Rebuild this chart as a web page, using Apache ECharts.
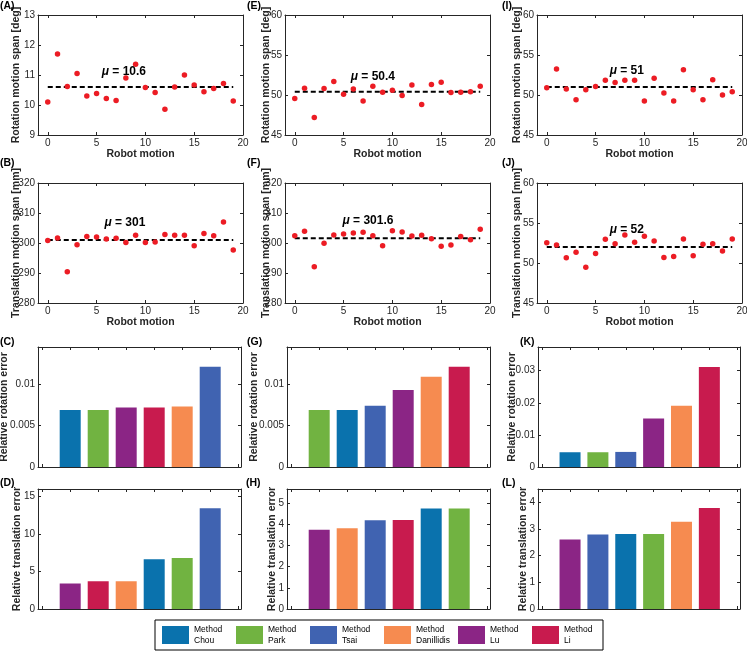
<!DOCTYPE html>
<html><head><meta charset="utf-8">
<script src="https://cdn.jsdelivr.net/npm/echarts@6/dist/echarts.min.js"></script>
<style>html,body{margin:0;padding:0;background:#fff}#c{width:747px;height:656px}</style>
</head><body><div id="c"></div>
<script>
// ---------- DATA ----------
const methods = ['Chou', 'Park', 'Tsai', 'Danillidis', 'Lu', 'Li'];
const methodColors = ['#0a72ad', '#71b341', '#4063b1', '#f68b50', '#8b2585', '#c81b4e'];
const motion = [0,1,2,3,4,5,6,7,8,9,10,11,12,13,14,15,16,17,18,19];

const rotA = [10.1,11.7,10.62,11.05,10.3,10.38,10.22,10.15,10.9,11.36,10.58,10.42,9.86,10.6,11.0,10.67,10.44,10.55,10.72,10.13];
const transB = [300.8,301.7,290.4,299.4,302.2,302.0,301.3,301.6,300.2,302.6,300.2,300.3,302.8,302.6,302.6,299.1,303.2,302.4,307.0,297.7];
const rotE = [49.55,50.83,47.2,50.8,51.7,50.1,50.75,49.25,51.1,50.35,50.6,49.95,51.25,48.8,51.3,51.6,50.3,50.35,50.4,51.1];
const transF = [302.4,303.9,292.1,299.9,302.7,303.0,303.3,303.6,302.4,299.1,304.1,303.7,302.3,302.6,301.4,298.9,299.3,302.2,301.1,304.6];
const rotI = [50.9,53.25,50.75,49.4,50.65,51.05,51.85,51.55,51.85,51.85,49.25,52.1,50.25,49.25,53.15,50.65,49.4,51.9,50.0,50.4];
const transJ = [52.54,52.25,50.67,51.33,49.46,51.2,52.96,52.42,53.5,52.58,53.33,52.75,50.7,50.8,53.0,50.9,52.33,52.42,51.5,53.0];
const meansRot = [10.6, 50.4, 51];      // A, E, I
const meansTrans = [301, 301.6, 52];    // B, F, J

const motionTicks = [0,5,10,15,20];

const ordC = ['Chou','Park','Lu','Li','Danillidis','Tsai'];
const valC = [0.0069,0.0069,0.0072,0.0072,0.0073,0.0121];
const ordD = ['Lu','Li','Danillidis','Chou','Park','Tsai'];
const valD = [3.4,3.7,3.7,6.65,6.8,13.45];
const ordG = ['Park','Chou','Tsai','Lu','Danillidis','Li'];
const valG = [0.0069,0.0069,0.0074,0.0093,0.0109,0.0121];
const ordH = ['Lu','Danillidis','Tsai','Li','Chou','Park'];
const valH = [3.75,3.81,4.19,4.2,4.75,4.75];
const ordK = ['Chou','Park','Tsai','Lu','Danillidis','Li'];
const valK = [0.0046,0.0046,0.0047,0.0151,0.0191,0.0312];
const ordL = ['Lu','Tsai','Chou','Park','Danillidis','Li'];
const valL = [2.61,2.79,2.81,2.81,3.27,3.79];

const ticksRotSmall = [0, 0.005, 0.01];
const ticksRotK = [0, 0.01, 0.02, 0.03];
const ticksD = [0, 5, 10, 15];
const ticksH = [0, 1, 2, 3, 4, 5];
const ticksL = [0, 1, 2, 3, 4];

// ---------- LAYOUT / STYLE ----------
const FONT = '"Liberation Sans", Arial, Helvetica, sans-serif';
const AX = '#262626';
const scatterCols = [{left:38, width:205}, {left:285, width:205}, {left:537, width:205}];
const barCols = [{left:38, width:203}, {left:287, width:203}, {left:538, width:202}];
const rowTops = [15, 183, 347, 489];
const titleTops = [1, 158, 337, 478];
const H = 120;

const grids = [], xAxes = [], yAxes = [], series = [], titles = [];

function axisCommon() {
  return {
    axisLine: {show: true, onZero: false, lineStyle: {color: AX, width: 1}},
    axisTick: {show: true, inside: true, length: 3, lineStyle: {color: AX, width: 1}},
    splitLine: {show: false},
    axisLabel: {color: AX, fontSize: 10, fontFamily: FONT, margin: 3}
  };
}
const nameStyle = {fontSize: 10.5, fontWeight: 'bold', color: AX, fontFamily: FONT};

function addGrid(rect, top, xCfg, yCfg) {
  const gi = grids.length;
  grids.push({left: rect.left, top: top, width: rect.width, height: H, containLabel: false, outerBoundsMode: 'none'});
  const xb = Object.assign(axisCommon(), {type: 'value', gridIndex: gi, position: 'bottom', min: xCfg.min, max: xCfg.max});
  xb.axisTick.customValues = xCfg.ticks;
  xb.axisLabel.customValues = xCfg.ticks;
  xb.axisLabel.show = xCfg.labels;
  if (xCfg.name) {
    Object.assign(xb, {name: xCfg.name, nameLocation: 'middle', nameGap: 14, nameMoveOverlap: false,
      nameTextStyle: nameStyle});
  }
  const xt = Object.assign(axisCommon(), {type: 'value', gridIndex: gi, position: 'top', min: xCfg.min, max: xCfg.max});
  xt.axisTick.customValues = xCfg.ticks;
  xt.axisLabel.show = false;
  const yl = Object.assign(axisCommon(), {type: 'value', gridIndex: gi, position: 'left', min: yCfg.min, max: yCfg.max,
    name: yCfg.name, nameLocation: 'middle', nameGap: yCfg.gap, nameRotate: 90, nameMoveOverlap: false,
    nameTextStyle: nameStyle});
  yl.axisTick.customValues = yCfg.ticks;
  yl.axisLabel.customValues = yCfg.ticks;
  const yr = Object.assign(axisCommon(), {type: 'value', gridIndex: gi, position: 'right', min: yCfg.min, max: yCfg.max});
  yr.axisTick.customValues = yCfg.ticks;
  yr.axisLabel.show = false;
  const xi = xAxes.length; xAxes.push(xb, xt);
  const yi = yAxes.length; yAxes.push(yl, yr);
  return {xi, yi};
}

function range(a, b, s) { const r = []; for (let v = a; v <= b + 1e-9; v += s) r.push(+v.toFixed(6)); return r; }

const scatterPanels = [
  {col:0,row:0,letter:'(A)',vals:rotA,mean:meansRot[0],y:[9,13,1],name:'Rotation motion span [deg]',gap:16.5,lab:[7.8,11.12],tl:0},
  {col:1,row:0,letter:'(E)',vals:rotE,mean:meansRot[1],y:[45,60,5],name:'Rotation motion span [deg]',gap:13,lab:[8.0,52.25],tl:247},
  {col:2,row:0,letter:'(I)',vals:rotI,mean:meansRot[2],y:[45,60,5],name:'Rotation motion span [deg]',gap:14.5,lab:[8.2,53.0],tl:502},
  {col:0,row:1,letter:'(B)',vals:transB,mean:meansTrans[0],y:[280,320,10],name:'Translation motion span [mm]',gap:16.5,lab:[7.9,306.7],tl:0},
  {col:1,row:1,letter:'(F)',vals:transF,mean:meansTrans[1],y:[280,320,10],name:'Translation motion span [mm]',gap:13,lab:[7.5,307.4],tl:247},
  {col:2,row:1,letter:'(J)',vals:transJ,mean:meansTrans[2],y:[45,60,5],name:'Translation motion span [mm]',gap:14.5,lab:[8.2,54.2],tl:502}
];

scatterPanels.forEach(p => {
  const {xi, yi} = addGrid(scatterCols[p.col], rowTops[p.row],
    {min: -1, max: 20, ticks: motionTicks, labels: true, name: 'Robot motion'},
    {min: p.y[0], max: p.y[1], ticks: range(p.y[0], p.y[1], p.y[2]), name: p.name, gap: p.gap});
  series.push({type: 'line', xAxisIndex: xi, yAxisIndex: yi, data: [[motion[0], p.mean], [motion[motion.length-1], p.mean]],
    symbol: 'none', silent: true, z: 2, lineStyle: {color: '#000', width: 2, type: [5, 3]}});
  series.push({type: 'scatter', xAxisIndex: xi, yAxisIndex: yi, data: motion.map((m, i) => [m, p.vals[i]]),
    symbolSize: 5.5, itemStyle: {color: '#ec1c24', opacity: 1}, silent: true, z: 3});
  series.push({type: 'scatter', xAxisIndex: xi, yAxisIndex: yi, data: [p.lab], symbolSize: 0, silent: true, z: 4,
    itemStyle: {opacity: 1},
    label: {show: true, position: 'inside', formatter: '{i|μ}{b| = ' + p.mean + '}',
      rich: {i: {fontStyle: 'italic', fontWeight: 'bold', fontSize: 12, fontFamily: FONT, color: '#000'},
             b: {fontWeight: 'bold', fontSize: 12, fontFamily: FONT, color: '#000'}}}});
  titles.push({text: p.letter, left: p.tl, top: titleTops[p.row], padding: 0,
    textStyle: {fontSize: 10.5, fontWeight: 'bold', color: '#000', fontFamily: FONT}});
});

const barPanels = [
  {col:0,row:2,letter:'(C)',ord:ordC,vals:valC,max:0.0145,ticks:ticksRotSmall,name:'Relative rotation error',gap:28,tl:0},
  {col:1,row:2,letter:'(G)',ord:ordG,vals:valG,max:0.0145,ticks:ticksRotSmall,name:'Relative rotation error',gap:27,tl:247},
  {col:2,row:2,letter:'(K)',ord:ordK,vals:valK,max:0.0374,ticks:ticksRotK,name:'Relative rotation error',gap:20,tl:520},
  {col:0,row:3,letter:'(D)',ord:ordD,vals:valD,max:16,ticks:ticksD,name:'Relative translation error',gap:15,tl:0},
  {col:1,row:3,letter:'(H)',ord:ordH,vals:valH,max:5.67,ticks:ticksH,name:'Relative translation error',gap:9,tl:246},
  {col:2,row:3,letter:'(L)',ord:ordL,vals:valL,max:4.5,ticks:ticksL,name:'Relative translation error',gap:9,tl:502}
];

barPanels.forEach(p => {
  const {xi, yi} = addGrid(barCols[p.col], rowTops[p.row],
    {min: -0.15, max: 7.1, ticks: [0,1,2,3,4,5,6,7], labels: false},
    {min: 0, max: p.max, ticks: p.ticks, name: p.name, gap: p.gap});
  p.ord.forEach((m, i) => {
    const mi = methods.indexOf(m);
    series.push({type: 'bar', name: m, xAxisIndex: xi, yAxisIndex: yi, data: [[i + 1, p.vals[i]]],
      barWidth: 21, barGap: '-100%', itemStyle: {color: methodColors[mi]}, z: 2});
  });
  titles.push({text: p.letter, left: p.tl, top: titleTops[p.row], padding: 0,
    textStyle: {fontSize: 10.5, fontWeight: 'bold', color: '#000', fontFamily: FONT}});
});

const chart = echarts.init(document.getElementById('c'), null, {renderer: 'canvas'});
chart.setOption({
  animation: false,
  backgroundColor: '#fff',
  title: titles,
  grid: grids,
  xAxis: xAxes,
  yAxis: yAxes,
  legend: {
    data: methods, left: 155, top: 620, orient: 'horizontal',
    itemWidth: 27, itemHeight: 18, itemGap: 8,
    borderColor: '#000', borderWidth: 1, padding: [4, 5, 4, 7],
    icon: 'rect', selectedMode: false,
    formatter: n => 'Method\n' + n,
    textStyle: {fontSize: 8.5, lineHeight: 11, color: '#000', fontFamily: FONT, width: 34, align: 'center'}
  },
  series: series
});
</script></body></html>
